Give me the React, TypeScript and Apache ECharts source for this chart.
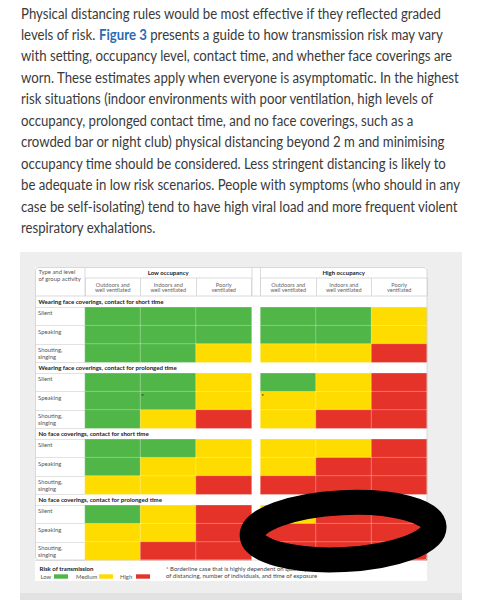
import React, { useEffect, useRef } from "react";
import * as echarts from "echarts";

const paragraphLines = [
  "Physical distancing rules would be most effective if they reflected graded",
  "levels of risk. {fig|Figure 3} presents a guide to how transmission risk may vary",
  "with setting, occupancy level, contact time, and whether face coverings are",
  "worn. These estimates apply when everyone is asymptomatic. In the highest",
  "risk situations (indoor environments with poor ventilation, high levels of",
  "occupancy, prolonged contact time, and no face coverings, such as a",
  "crowded bar or night club) physical distancing beyond 2 m and minimising",
  "occupancy time should be considered. Less stringent distancing is likely to",
  "be adequate in low risk scenarios. People with symptoms (who should in any",
  "case be self-isolating) tend to have high viral load and more frequent violent",
  "respiratory exhalations.",
];

const headerLabel = "Type and level\nof group activity";
const occupancies = ["Low occupancy", "High occupancy"];
const settings = ["Outdoors and\nwell ventilated", "Indoors and\nwell ventilated", "Poorly\nventilated"];
const activities = ["Silent", "Speaking", "Shouting,\nsinging"];
const sectionTitles = [
  "Wearing face coverings, contact for short time",
  "Wearing face coverings, contact for prolonged time",
  "No face coverings, contact for short time",
  "No face coverings, contact for prolonged time",
];
const riskLevels = ["Low", "Medium", "High"];
const legendTitle = "Risk of transmission";
const footnoteLines = [
  "* Borderline case that is highly dependent on quantity",
  "of distancing, number of individuals, and time of exposure",
];

// risk: 0 = low, 1 = medium, 2 = high; columns: low occ (3) then high occ (3)
const riskWearShort = [
  [0, 0, 0, 0, 0, 1],
  [0, 0, 0, 0, 0, 1],
  [0, 0, 1, 1, 1, 2],
];
const riskWearLong = [
  [0, 0, 1, 0, 1, 2],
  [0, 0, 1, 1, 1, 2],
  [0, 1, 2, 1, 2, 2],
];
const riskNoneShort = [
  [0, 0, 1, 1, 1, 2],
  [0, 1, 1, 1, 2, 2],
  [1, 1, 2, 2, 2, 2],
];
const riskNoneLong = [
  [0, 1, 2, 1, 2, 2],
  [1, 1, 2, 2, 2, 2],
  [1, 2, 2, 2, 2, 2],
];
const sectionRisks = [riskWearShort, riskWearLong, riskNoneShort, riskNoneLong];
// [section, row, column]
const borderlineCells = [
  [1, 1, 1],
  [1, 1, 3],
];

const riskColors = ["#50b647", "#ffdc00", "#e5332a"];
const FONT = "Lato, 'Noto Sans', sans-serif";

function buildOption() {
  const grids: any[] = [];
  const xAxes: any[] = [];
  const yAxes: any[] = [];
  const series: any[] = [];

  sectionRisks.forEach((rows, s) => {
    occupancies.forEach((occ, o) => {
      const g = s * 2 + o;
      grids.push({ left: o === 0 ? 85 : 260.5, top: 307.3 + 66 * s, width: 166.5, height: 55 });
      xAxes.push({
        type: "category",
        gridIndex: g,
        data: settings,
        position: "top",
        offset: 11.3,
        show: s === 0,
        name: s === 0 ? occ : "",
        nameLocation: "middle",
        nameGap: 23.7,
        nameTextStyle: { fontWeight: "bold", fontSize: 6, color: "#222", fontFamily: FONT, verticalAlign: "middle" },
        axisLine: { show: false },
        axisTick: { show: true, length: 18, lineStyle: { color: "#d2d2d2", width: 0.8 } },
        axisLabel: { margin: 3.5, fontSize: 5.6, lineHeight: 5.6, color: "#666", fontFamily: FONT },
        splitLine: { show: false },
      });
      yAxes.push({
        type: "category",
        gridIndex: g,
        data: activities,
        inverse: true,
        show: o === 0,
        axisLine: { show: false },
        axisTick: { show: true, length: 50, lineStyle: { color: "#dadada", width: 0.8 } },
        axisLabel: {
          align: "left",
          margin: 47,
          fontSize: 5.9,
          lineHeight: 7,
          color: "#555",
          fontFamily: FONT,
          formatter: (v: string) => (v.indexOf("\n") >= 0 ? v : v + "\n "),
        },
        splitLine: { show: false },
      });
      const data: any[] = [];
      rows.forEach((r, ri) => {
        for (let c = 0; c < 3; c++) {
          const col = o * 3 + c;
          const b = borderlineCells.some(([bs, br, bc]) => bs === s && br === ri && bc === col);
          data.push({ value: [c, ri, r[col]], borderline: b });
        }
      });
      series.push({
        type: "heatmap",
        xAxisIndex: g,
        yAxisIndex: g,
        data,
        itemStyle: { borderColor: "rgba(255,255,255,0.45)", borderWidth: 0.6 },
        label: {
          show: true,
          position: "insideTopLeft",
          distance: 1.5,
          fontSize: 6,
          color: "#333",
          formatter: (p: any) => (p.data.borderline ? "*" : ""),
        },
        emphasis: { disabled: true },
      });
    });
  });

  const graphic: any[] = [];
  // paragraph
  paragraphLines.forEach((line, i) => {
    graphic.push({
      type: "text",
      x: 21,
      y: 12.7 + 21.46 * i,
      scaleX: 0.88,
      style: {
        text: line,
        fontFamily: FONT,
        fontSize: 15,
        fill: "#3a3a3a",
        verticalAlign: "middle",
        rich: { fig: { fill: "#2a6bb3", fontWeight: "bold", fontFamily: FONT, fontSize: 15 } },
      },
    });
  });
  // panels
  graphic.push({ type: "rect", shape: { x: 20, y: 252, width: 442, height: 341 }, style: { fill: "#eeeeee" }, z: -10 });
  graphic.push({ type: "rect", shape: { x: 20, y: 593, width: 442, height: 7 }, style: { fill: "#e2e2e2" }, z: -10 });
  graphic.push({ type: "rect", shape: { x: 35, y: 267, width: 392, height: 314 }, style: { fill: "#ffffff" }, z: -9 });
  graphic.push({
    type: "rect",
    shape: { x: 35.5, y: 267.5, width: 391.5, height: 292.5, r: 3 },
    style: { fill: "none", stroke: "#cfcfcf", lineWidth: 0.8 },
    z: 5,
  });
  const lineStyle = { stroke: "#d2d2d2", lineWidth: 0.8 };
  graphic.push({ type: "line", shape: { x1: 85, y1: 278, x2: 252, y2: 278 }, style: lineStyle });
  graphic.push({ type: "line", shape: { x1: 260.5, y1: 278, x2: 427, y2: 278 }, style: lineStyle });
  graphic.push({ type: "line", shape: { x1: 35, y1: 296, x2: 427, y2: 296 }, style: lineStyle });
  [85, 252, 260.5].forEach((x) =>
    graphic.push({ type: "line", shape: { x1: x, y1: 267, x2: x, y2: 296 }, style: lineStyle })
  );
  graphic.push({
    type: "text",
    x: 38.5,
    y: 268.3,
    style: { text: headerLabel, fontFamily: FONT, fontSize: 5.9, lineHeight: 6.6, fill: "#555", verticalAlign: "top" },
  });
  sectionTitles.forEach((t, s) => {
    graphic.push({
      type: "text",
      x: 38.5,
      y: 301.8 + 66 * s,
      style: { text: t, fontFamily: FONT, fontSize: 6.1, fontWeight: "bold", fill: "#1a1a1a", verticalAlign: "middle" },
    });
  });
  // legend
  graphic.push({
    type: "text",
    x: 39.5,
    y: 568.5,
    style: { text: legendTitle, fontFamily: FONT, fontSize: 6.1, fontWeight: "bold", fill: "#1a1a1a", verticalAlign: "middle" },
  });
  const legendTextX = [40.5, 76, 120];
  const swatchX = [54, 99, 136];
  riskLevels.forEach((lvl, i) => {
    graphic.push({
      type: "text",
      x: legendTextX[i],
      y: 576.5,
      style: { text: lvl, fontFamily: FONT, fontSize: 5.9, fill: "#555", verticalAlign: "middle" },
    });
    graphic.push({ type: "rect", shape: { x: swatchX[i], y: 574.3, width: 14, height: 4.4 }, style: { fill: riskColors[i] } });
  });
  footnoteLines.forEach((t, i) => {
    graphic.push({
      type: "text",
      x: 166,
      y: 568.5 + 6.8 * i,
      style: { text: t, fontFamily: FONT, fontSize: 6, fill: "#444", verticalAlign: "middle" },
    });
  });
  // black scribble overlay
  graphic.push({
    type: "ellipse",
    shape: { cx: 343, cy: 531, rx: 91, ry: 28.5 },
    originX: 343,
    originY: 531,
    rotation: 0.05,
    style: { fill: "none", stroke: "#000", lineWidth: 25 },
    z: 100,
  });

  return {
    animation: false,
    backgroundColor: "#ffffff",
    grid: grids,
    xAxis: xAxes,
    yAxis: yAxes,
    visualMap: {
      show: false,
      type: "piecewise",
      dimension: 2,
      seriesIndex: series.map((_, i) => i),
      pieces: riskLevels.map((l, i) => ({ value: i, color: riskColors[i], label: l })),
    },
    series,
    graphic,
  };
}

export default function App() {
  const ref = useRef<HTMLDivElement>(null);
  useEffect(() => {
    if (!ref.current) return;
    const chart = echarts.init(ref.current, undefined, { renderer: "svg" });
    chart.setOption(buildOption() as any);
    return () => chart.dispose();
  }, []);
  return <div ref={ref} style={{ position: "absolute", left: 0, top: 0, width: 480, height: 600 }} />;
}
